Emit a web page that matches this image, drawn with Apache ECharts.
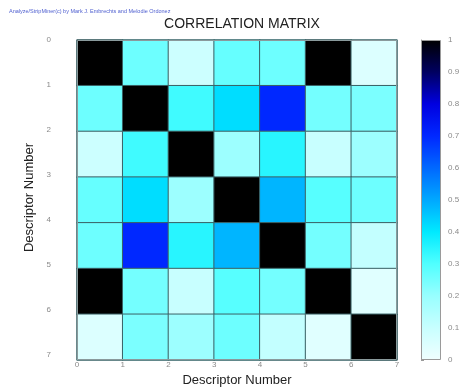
<!DOCTYPE html>
<html>
<head>
<meta charset="utf-8">
<script src="https://cdn.jsdelivr.net/npm/echarts@6/dist/echarts.min.js"></script>
<style>
  html, body { margin: 0; padding: 0; background: #fff; }
  #chart { width: 476px; height: 392px; }
</style>
</head>
<body>
<div id="chart"></div>
<script>
// Descriptor indices (one cell per descriptor)
const descriptors = ['0', '1', '2', '3', '4', '5', '6'];
// Boundary tick labels along both axes
const axisTicks = [0, 1, 2, 3, 4, 5, 6, 7];
// Colour-bar tick values
const colorTicks = [0, 0.1, 0.2, 0.3, 0.4, 0.5, 0.6, 0.7, 0.8, 0.9, 1];

// Correlation matrix rows (row 0 at top)
const row0 = [1.00, 0.26, 0.09, 0.27, 0.26, 1.00, 0.05];
const row1 = [0.26, 1.00, 0.32, 0.42, 0.70, 0.25, 0.24];
const row2 = [0.09, 0.32, 1.00, 0.19, 0.35, 0.10, 0.19];
const row3 = [0.27, 0.42, 0.19, 1.00, 0.48, 0.29, 0.26];
const row4 = [0.26, 0.70, 0.35, 0.48, 1.00, 0.25, 0.11];
const row5 = [1.00, 0.25, 0.10, 0.29, 0.25, 1.00, 0.04];
const row6 = [0.05, 0.24, 0.19, 0.26, 0.11, 0.04, 1.00];
const matrix = [row0, row1, row2, row3, row4, row5, row6];

const cells = [];
matrix.forEach((row, r) => row.forEach((v, c) => cells.push([c, r, v])));

const plot = { left: 77, top: 40, width: 320, height: 320 };
const bar = { left: 421, top: 40, width: 20, height: 320 };
const tickFont = { fontFamily: 'Liberation Sans, Arial, sans-serif', fontSize: 8, color: '#8a8a8a' };
const nameFont = { fontFamily: 'Liberation Sans, Arial, sans-serif', fontSize: 13, color: '#222' };

const chart = echarts.init(document.getElementById('chart'), null, { renderer: 'canvas' });
chart.setOption({
  animation: false,
  backgroundColor: '#fff',
  title: [
    {
      text: 'CORRELATION MATRIX',
      left: 237, top: 12, textAlign: 'center',
      textStyle: { fontFamily: 'Liberation Sans, Arial, sans-serif', fontSize: 14, fontWeight: 'normal', color: '#222' }
    },
    {
      text: 'Analyze/StripMiner(c) by Mark J. Embrechts and Melodie Ordonez',
      left: 4, top: 3,
      textStyle: { fontFamily: 'Liberation Sans, Arial, sans-serif', fontSize: 5.5, fontWeight: 'normal', color: '#5060d0' }
    }
  ],
  grid: [
    Object.assign({ containLabel: false }, plot),
    Object.assign({ containLabel: false }, plot),
    Object.assign({ containLabel: false }, bar)
  ],
  xAxis: [
    { gridIndex: 0, type: 'category', data: descriptors, show: false },
    {
      gridIndex: 1, type: 'value', min: 0, max: 7, interval: 1, position: 'bottom',
      name: 'Descriptor Number', nameLocation: 'middle', nameGap: 19,
      nameTextStyle: nameFont,
      axisLine: { show: false }, axisTick: { show: false }, splitLine: { show: false },
      axisLabel: Object.assign({ margin: 6, formatter: v => axisTicks.includes(v) ? String(v) : '' }, tickFont)
    },
    { gridIndex: 2, type: 'value', show: false }
  ],
  yAxis: [
    { gridIndex: 0, type: 'category', data: descriptors, inverse: true, show: false },
    {
      gridIndex: 1, type: 'value', min: 0, max: 7, interval: 1, inverse: true, position: 'left',
      name: 'Descriptor Number', nameLocation: 'middle', nameGap: 39, nameRotate: 90,
      nameTextStyle: nameFont,
      axisLine: { show: false }, axisTick: { show: false }, splitLine: { show: false },
      axisLabel: Object.assign({ margin: 26, formatter: v => axisTicks.includes(v) ? String(v) : '' }, tickFont)
    },
    {
      gridIndex: 2, type: 'value', min: 0, max: 1, interval: 0.1, position: 'right',
      axisLine: { show: true, lineStyle: { color: '#9a9a9a' } },
      axisTick: { show: true, inside: false, length: 3, lineStyle: { color: '#9a9a9a' } },
      splitLine: { show: false },
      axisLabel: Object.assign({ margin: 7, formatter: v => {
        const hit = colorTicks.find(t => Math.abs(t - v) < 1e-6);
        return hit === undefined ? '' : String(hit);
      } }, tickFont)
    }
  ],
  visualMap: {
    type: 'continuous',
    min: 0, max: 1,
    seriesIndex: 0,
    calculable: false,
    orient: 'vertical',
    left: bar.left, top: bar.top,
    itemWidth: bar.width, itemHeight: bar.height,
    padding: 0,
    text: null,
    showLabel: false,
    borderWidth: 0,
    inRange: {
      // colour stops at 0, 0.1, ..., 1
      color: ['#f0ffff', '#c8ffff', '#98ffff', '#50ffff', '#00eaff', '#00a8ff',
              '#0068ff', '#0028ff', '#0000e0', '#000060', '#000000']
    }
  },
  series: [
    {
      type: 'heatmap',
      xAxisIndex: 0, yAxisIndex: 0,
      data: cells,
      itemStyle: { borderColor: '#3a6266', borderWidth: 1 },
      emphasis: { disabled: true }
    }
  ],
  graphic: [
    {
      type: 'rect', silent: true, z: 100,
      shape: { x: bar.left + 0.5, y: bar.top + 0.5, width: bar.width - 1, height: bar.height - 1 },
      style: { fill: 'none', stroke: '#9a9a9a', lineWidth: 1 }
    },
    {
      type: 'rect', silent: true, z: 100,
      shape: { x: plot.left + 0.5, y: plot.top + 0.5, width: plot.width - 1, height: plot.height - 1 },
      style: { fill: 'none', stroke: '#8a9a9c', lineWidth: 1 }
    }
  ]
});
</script>
</body>
</html>
